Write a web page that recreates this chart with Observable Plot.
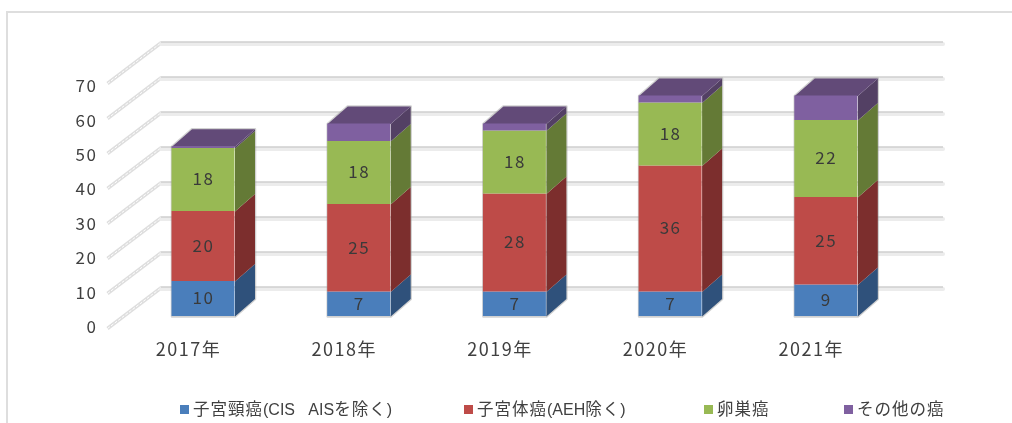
<!DOCTYPE html>
<html><head><meta charset="utf-8">
<script src="https://cdn.jsdelivr.net/npm/d3@7"></script>
<script src="https://cdn.jsdelivr.net/npm/@observablehq/plot@0.6"></script>
<style>
html,body{margin:0;padding:0;background:#fff;}
#wrap{position:relative;width:1012px;height:423px;overflow:hidden;}
#frame{position:absolute;left:6px;top:11px;right:-4px;bottom:-4px;border-left:2px solid #dedede;border-top:2px solid #dedede;}
#chart{position:absolute;left:0;top:0;}
#chart svg{filter:blur(.35px);}
.lg{position:absolute;top:396px;height:22px;line-height:22px;font:16.5px "Liberation Sans","Noto Sans CJK JP",sans-serif;letter-spacing:1px;color:#404040;white-space:pre;filter:blur(.25px);}
.lg i{position:absolute;left:-13px;top:9px;width:9px;height:9px;}
.lg span{font-size:16px;letter-spacing:0;}
</style></head>
<body><div id="wrap"><div id="frame"></div><div id="chart"></div></div>
<script>
const years = ["2017年","2018年","2019年","2020年","2021年"];
const cervical = [10,7,7,7,9];
const corpus = [20,25,28,36,25];
const ovary = [18,18,18,18,22];
const other = [0.5,5,2,2,7];
const yTicks = [0,10,20,30,40,50,60,70];
const seriesNames = ["子宮頸癌(CIS\u00a0\u00a0\u00a0AISを除く)","子宮体癌(AEH除く)","卵巣癌","その他の癌"];
const frontColors = ["#4a7ebb","#be4b48","#98b954","#7f60a0"];
const sideColors = ["#2f517b","#7c2e2d","#647a36","#534064"];
const topColor = "#624a78";
const legendLefts = [193,477,717,857];
const labelled = [true,true,true,false];

const allSeries = [cervical,corpus,ovary,other];
const halfBar = 0.2023, depthX = 0.1285, depthY = 5;
const wallX1 = -0.2697, wallX2 = 4.753, wallY = 8.29, floorX = -0.6166, floorY = -3.43, labelX = -0.681;

const segs = [];
years.forEach((yr,i)=>{
  let base = 0;
  allSeries.forEach((s,k)=>{
    segs.push({i,k,y1:base,y2:base+s[i],v:s[i],id:i+"-"+k});
    base += s[i];
  });
});
const totals = years.map((yr,i)=>d3.sum(allSeries,s=>s[i]));
const tops = totals.flatMap((t,i)=>[
  {id:i,x:i-halfBar,y:t},{id:i,x:i+halfBar,y:t},
  {id:i,x:i+halfBar+depthX,y:t+depthY},{id:i,x:i-halfBar+depthX,y:t+depthY}
]);
const outline = totals.flatMap((t,i)=>[
  {id:i,x:i-halfBar,y:0},{id:i,x:i+halfBar,y:0},{id:i,x:i+halfBar+depthX,y:depthY},
  {id:i,x:i+halfBar+depthX,y:t+depthY},{id:i,x:i-halfBar+depthX,y:t+depthY},{id:i,x:i-halfBar,y:t},{id:i,x:i-halfBar,y:0}
]);
const sideRows = segs.flatMap(d=>[
  {id:d.id,k:d.k,x:d.i+halfBar,y:d.y1},
  {id:d.id,k:d.k,x:d.i+halfBar+depthX,y:d.y1+depthY},
  {id:d.id,k:d.k,x:d.i+halfBar+depthX,y:d.y2+depthY},
  {id:d.id,k:d.k,x:d.i+halfBar,y:d.y2}
]);

const font = '"Noto Sans CJK JP",sans-serif';
const chart = Plot.plot({
  width:1012,height:385,
  marginLeft:0,marginRight:0,marginTop:1,marginBottom:69,
  style:{background:"transparent",fontFamily:font,overflow:"visible",letterSpacing:"1.5px"},
  x:{type:"linear",domain:[-203/155.7,(1012-203)/155.7],range:[0,1012]},
  y:{type:"linear",domain:[0,90],axis:null},
  marks:[
    Plot.link(yTicks,{x1:floorX,x2:wallX1,y1:d=>d+floorY,y2:d=>d+wallY,stroke:"#dedede",strokeWidth:3.5}),
    Plot.link(yTicks,{x1:floorX,x2:wallX1,y1:d=>d+floorY,y2:d=>d+wallY,stroke:"#fff",strokeWidth:1,strokeDasharray:"3 1.5"}),
    Plot.ruleY(yTicks,{y:d=>d+wallY,x1:wallX1,x2:wallX2,stroke:"#ececec",strokeWidth:4,dy:1.5,strokeLinecap:"round"}),
    Plot.ruleY(yTicks,{y:d=>d+wallY,x1:wallX1,x2:wallX2,stroke:"#cfcfcf",strokeWidth:1.5,dy:-.5}),
    Plot.line(outline,{x:"x",y:"y",z:"id",stroke:"#999",strokeWidth:2.5,strokeOpacity:.45}),
    ...frontColors.map((c,k)=>
      Plot.line(sideRows.filter(d=>d.k===k),{x:"x",y:"y",z:"id",fill:sideColors[k],stroke:"none"})),
    Plot.line(tops,{x:"x",y:"y",z:"id",fill:topColor,stroke:"none"}),
    ...frontColors.map((c,k)=>
      Plot.rect(segs.filter(d=>d.k===k),{x1:d=>d.i-halfBar,x2:d=>d.i+halfBar,y1:"y1",y2:"y2",fill:c})),
    Plot.text(segs.filter(d=>labelled[d.k]),{x:"i",y:d=>(d.y1+d.y2)/2,text:d=>String(d.v),fill:"#3a3a3a",fontSize:17}),
    Plot.text(yTicks,{x:()=>labelX,y:d=>d*3.44/3.5,text:d=>String(d),textAnchor:"end",dy:11,fontSize:17,fill:"#404040"}),
    Plot.axisX({ticks:[0,1,2,3,4],tickFormat:i=>years[i],tickSize:0,label:null,dx:-15,dy:18,fontSize:18,fill:"#404040",stroke:"none"})
  ]
});
document.getElementById("chart").appendChild(chart);
const wrap = document.getElementById("wrap");
seriesNames.forEach((n,k)=>{
  const d = document.createElement("div");
  d.className="lg"; d.style.left=legendLefts[k]+"px";
  n.split(/([\x00-\x7f\u00a0]+)/).forEach((part,j)=>{
    if (!part) return;
    if (j%2) { const s=document.createElement("span"); s.textContent=part; d.appendChild(s); }
    else d.appendChild(document.createTextNode(part));
  });
  const sw = document.createElement("i"); sw.style.background=frontColors[k];
  d.appendChild(sw); wrap.appendChild(d);
});
</script></body></html>
